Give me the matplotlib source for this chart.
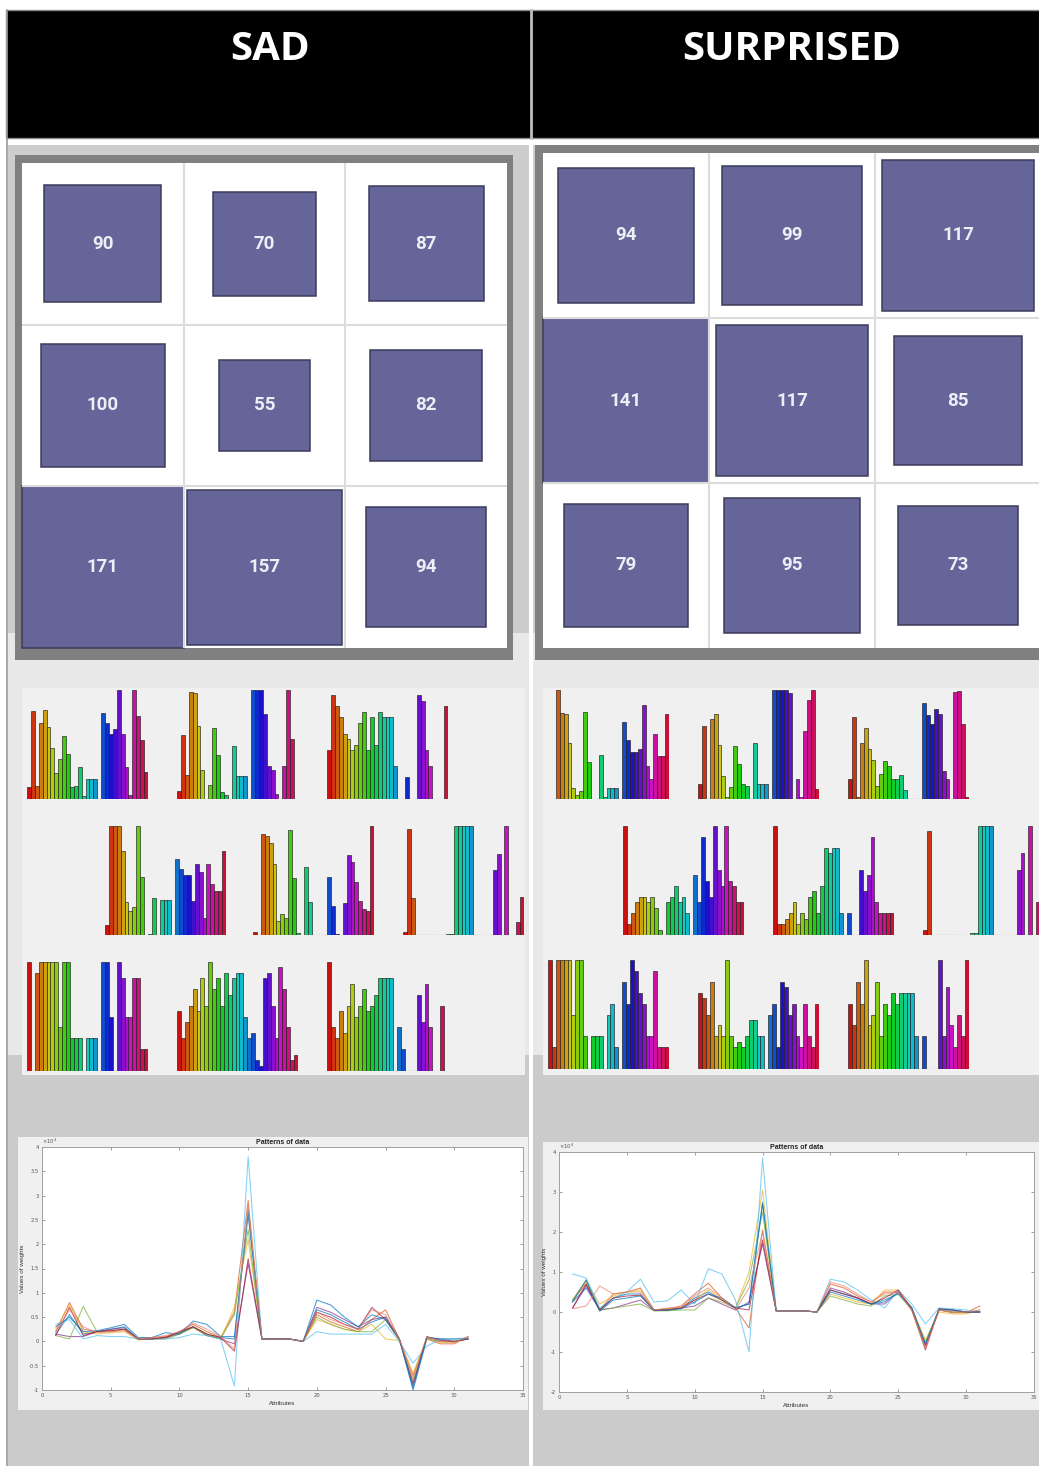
"""
SOM summary sheet for two emotion classes (SAD / SURPRISED):
hit counts on a 3x3 map, per-neuron weight bars and the weight patterns.
"""

import numpy as np
import matplotlib
matplotlib.use("Agg")
import matplotlib.pyplot as plt
from matplotlib.patches import Rectangle
from matplotlib.colors import hsv_to_rgb
from matplotlib.ticker import FuncFormatter

# ---------- Data ----------
CLASSES = ["SAD", "SURPRISED"]

# neuron hit counts, rows top to bottom
SAD_HITS = [[90, 70, 87],
            [100, 55, 82],
            [171, 157, 94]]
SURPRISED_HITS = [[94, 99, 117],
                  [141, 117, 85],
                  [79, 95, 73]]

# normalised weight bars per neuron (31 attributes), row-major order
SAD_BARS = [
    [0.11, 0.81, 0.12, 0.70, 0.82, 0.66, 0.47, 0.24, 0.37, 0.58, 0.41, 0.11, 0.12, 0.29, 0.03, 0.18,
     0.18, 0.18, 0, 0.79, 0.70, 0.60, 0.64, 1.0, 0.60, 0.29, 0.04, 1.0, 0.76, 0.54, 0.25],
    [0.07, 0.59, 0.22, 0.98, 0.97, 0.67, 0.27, 0, 0.13, 0.65, 0.40, 0.06, 0.04, 0, 0.49, 0.21,
     0.21, 0.21, 0, 1.0, 1.0, 1.0, 0.78, 0.30, 0.27, 0.05, 0, 0.30, 1.0, 0.55, 0],
    [0.45, 0.95, 0.85, 0.75, 0.60, 0.55, 0.45, 0.50, 0.70, 0.80, 0.45, 0.75, 0.50, 0.80, 0.75, 0.75,
     0.75, 0.30, 0, 0, 0.20, 0, 0, 0.95, 0.90, 0.45, 0.30, 0, 0, 0, 0.85],
    [0.09, 1.0, 1.0, 1.0, 0.77, 0.30, 0.22, 0.26, 1.0, 0.53, 0, 0.01, 0.34, 0, 0.32, 0.32,
     0.32, 0, 0.70, 0.61, 0.55, 0.55, 0.31, 0.65, 0.58, 0.16, 0.65, 0.47, 0.40, 0.40, 0.77],
    [0.03, 0, 0.93, 0.91, 0.84, 0.65, 0.13, 0.19, 0.16, 0.96, 0.52, 0.02, 0, 0.62, 0.30, 0,
     0, 0, 0, 0.53, 0.27, 0.01, 0, 0.29, 0.73, 0.67, 0.49, 0.31, 0.24, 0.22, 1.0],
    [0.03, 0.97, 0.34, 0, 0, 0, 0, 0, 0, 0, 0, 0.01, 0.01, 1.0, 1.0, 1.0,
     1.0, 1.0, 0, 0, 0, 0, 0, 0.60, 0.74, 0, 1.0, 0, 0, 0.12, 0.35],
    [1.0, 0, 0.90, 1.0, 1.0, 1.0, 1.0, 1.0, 0.40, 1.0, 1.0, 0.30, 0.30, 0.30, 0, 0.30,
     0.30, 0.30, 0, 1.0, 1.0, 0.50, 0, 1.0, 0.85, 0.50, 0.50, 0.85, 0.85, 0.20, 0.20],
    [0.55, 0.30, 0.45, 0.60, 0.75, 0.55, 0.85, 0.60, 1.0, 0.75, 0.85, 0.60, 0.90, 0.70, 0.85, 0.90,
     0.90, 0.50, 0.30, 0.35, 0.10, 0.05, 0.85, 0.90, 0.60, 0.30, 0.95, 0.75, 0.40, 0.10, 0.15],
    [1.0, 0.40, 0.30, 0.55, 0.35, 0.60, 0.80, 0.50, 0.60, 0.75, 0.55, 0.60, 0.70, 0.85, 0.85, 0.85,
     0.85, 0, 0.40, 0.20, 0, 0, 0, 0.70, 0.45, 0.80, 0.40, 0, 0, 0.60, 0],
]
SURPRISED_BARS = [
    [0, 0, 1.0, 0.79, 0.78, 0.51, 0.10, 0.04, 0.07, 0.80, 0.34, 0, 0, 0.40, 0.02, 0.10,
     0.10, 0.10, 0, 0.71, 0.54, 0.43, 0.43, 0.46, 0.86, 0.30, 0.18, 0.60, 0.39, 0.39, 0.78],
    [0.14, 0.67, 0, 0.73, 0.78, 0.50, 0.21, 0.02, 0.11, 0.49, 0.32, 0.14, 0.12, 0, 0.51, 0.14,
     0.14, 0.14, 0, 1.0, 1.0, 1.0, 1.0, 0.97, 0, 0.18, 0.02, 0.62, 0.91, 1.0, 0.09],
    [0.18, 0.75, 0.02, 0.51, 0.65, 0.46, 0.36, 0.12, 0.23, 0.35, 0.30, 0.18, 0.18, 0.22, 0.08, 0,
     0, 0, 0, 0.88, 0.77, 0.69, 0.83, 0.78, 0.26, 0.18, 0, 0.98, 0.99, 0.69, 0.02],
    [1.0, 0.10, 0.20, 0.30, 0.35, 0.35, 0.30, 0.35, 0.25, 0.05, 0, 0.30, 0.35, 0.45, 0.30, 0.35,
     0.20, 0, 0.55, 0.30, 0.90, 0.50, 0.35, 1.0, 0.60, 0.45, 1.0, 0.50, 0.45, 0.30, 0.30],
    [1.0, 0.10, 0.10, 0.15, 0.20, 0.30, 0.10, 0.20, 0.15, 0.35, 0.40, 0.20, 0.45, 0.80, 0.75, 0.80,
     0.80, 0.20, 0, 0.20, 0, 0, 0.60, 0.40, 0.55, 0.90, 0.30, 0.20, 0.20, 0.20, 0.20],
    [0.05, 0.95, 0, 0, 0, 0, 0, 0, 0, 0, 0, 0, 0.02, 0.02, 1.0, 1.0,
     1.0, 1.0, 0, 0, 0, 0, 0, 0, 0.60, 0.75, 0, 1.0, 0, 0.30, 0.45],
    [1.0, 0.20, 1.0, 1.0, 1.0, 1.0, 0.50, 1.0, 1.0, 0.30, 0, 0.30, 0.30, 0.30, 0, 0.50,
     0.60, 0.20, 0, 0.80, 0.60, 1.0, 0.90, 0.70, 0.60, 0.30, 0.30, 0.90, 0.20, 0.20, 0.20],
    [0.70, 0.65, 0.50, 0.80, 0.30, 0.40, 0.30, 1.0, 0.30, 0.20, 0.25, 0.20, 0.30, 0.45, 0.45, 0.30,
     0.30, 0, 0.50, 0.60, 0.20, 0.80, 0.75, 0.50, 0.60, 0.30, 0.20, 0.60, 0.30, 0.20, 0.60],
    [0.60, 0.40, 0.80, 0.60, 1.0, 0.40, 0.50, 0.80, 0.30, 0.60, 0.50, 0.70, 0.60, 0.70, 0.70, 0.70,
     0.70, 0.30, 0, 0.30, 0, 0, 0, 1.0, 0.30, 0.75, 0.40, 0.20, 0.50, 0.30, 1.0],
]

# weight patterns (x 10^4) over attributes 1..31, one list per neuron
SAD_PATTERNS = [
    [0.15, 0.55, 0.15, 0.20, 0.25, 0.30, 0.05, 0.05, 0.08, 0.15, 0.30, 0.15, 0.08, 0.05, 2.70, 0.05,
     0.05, 0.05, 0.0, 0.65, 0.55, 0.40, 0.25, 0.40, 0.50, 0.05, -1.00, 0.05, 0.00, 0.00, 0.05],
    [0.20, 0.80, 0.25, 0.20, 0.22, 0.25, 0.05, 0.08, 0.10, 0.20, 0.35, 0.20, 0.08, 0.60, 2.90, 0.05,
     0.05, 0.05, 0.0, 0.55, 0.40, 0.30, 0.20, 0.45, 0.65, 0.05, -0.70, 0.05, -0.05, -0.05, 0.10],
    [0.25, 0.75, 0.20, 0.15, 0.18, 0.20, 0.03, 0.05, 0.08, 0.18, 0.30, 0.15, 0.05, 0.70, 2.10, 0.05,
     0.05, 0.05, 0.0, 0.45, 0.35, 0.25, 0.20, 0.35, 0.05, 0.02, -0.65, 0.05, -0.02, -0.02, 0.08],
    [0.15, 0.10, 0.10, 0.20, 0.25, 0.28, 0.05, 0.05, 0.08, 0.20, 0.30, 0.12, 0.05, -0.05, 1.60, 0.05,
     0.05, 0.05, 0.0, 0.70, 0.60, 0.45, 0.30, 0.45, 0.50, 0.05, -0.85, 0.08, 0.05, 0.00, 0.05],
    [0.12, 0.05, 0.72, 0.20, 0.20, 0.25, 0.05, 0.05, 0.05, 0.15, 0.28, 0.12, 0.05, 0.55, 2.30, 0.05,
     0.05, 0.05, 0.0, 0.50, 0.35, 0.25, 0.20, 0.20, 0.45, 0.02, -0.80, 0.08, 0.00, 0.00, 0.05],
    [0.35, 0.45, 0.05, 0.12, 0.10, 0.10, 0.05, 0.05, 0.05, 0.08, 0.15, 0.12, 0.05, -0.92, 3.80, 0.05,
     0.05, 0.05, 0.0, 0.20, 0.15, 0.15, 0.15, 0.15, 0.35, 0.00, -0.45, -0.10, 0.05, 0.05, 0.08],
    [0.12, 0.70, 0.12, 0.20, 0.22, 0.25, 0.05, 0.05, 0.08, 0.18, 0.30, 0.15, 0.08, -0.20, 1.70, 0.05,
     0.05, 0.05, 0.0, 0.60, 0.50, 0.35, 0.25, 0.70, 0.45, 0.05, -0.90, 0.10, 0.02, 0.00, 0.05],
    [0.30, 0.50, 0.20, 0.22, 0.28, 0.35, 0.08, 0.08, 0.18, 0.15, 0.42, 0.35, 0.10, 0.10, 2.60, 0.05,
     0.05, 0.05, 0.0, 0.85, 0.75, 0.50, 0.30, 0.55, 0.45, 0.05, -0.95, 0.08, 0.05, 0.05, 0.05],
    [0.20, 0.65, 0.30, 0.18, 0.20, 0.22, 0.05, 0.08, 0.12, 0.20, 0.38, 0.25, 0.10, -0.15, 2.80, 0.05,
     0.05, 0.05, 0.0, 0.60, 0.45, 0.35, 0.25, 0.65, 0.55, 0.05, -0.75, 0.10, 0.00, -0.02, 0.10],
]
SURPRISED_PATTERNS = [
    [0.25, 0.60, 0.05, 0.35, 0.45, 0.45, 0.05, 0.05, 0.10, 0.35, 0.50, 0.30, 0.10, 0.20, 2.75, 0.03,
     0.03, 0.03, 0.0, 0.55, 0.45, 0.35, 0.20, 0.25, 0.50, 0.10, -0.80, 0.05, 0.00, 0.00, 0.00],
    [0.30, 0.70, 0.05, 0.45, 0.50, 0.60, 0.05, 0.08, 0.15, 0.45, 0.72, 0.35, 0.10, -0.40, 2.05, 0.03,
     0.03, 0.03, 0.0, 0.70, 0.60, 0.40, 0.25, 0.50, 0.50, 0.05, -0.85, 0.05, -0.02, -0.02, 0.15],
    [0.30, 0.75, 0.20, 0.40, 0.50, 0.55, 0.05, 0.08, 0.10, 0.30, 0.55, 0.30, 0.10, 1.00, 3.05, 0.03,
     0.03, 0.03, 0.0, 0.45, 0.35, 0.25, 0.20, 0.55, 0.55, 0.10, -0.70, 0.00, -0.05, -0.05, 0.05],
    [0.10, 0.65, 0.05, 0.10, 0.20, 0.30, 0.03, 0.05, 0.10, 0.15, 0.35, 0.20, 0.05, 0.25, 1.70, 0.03,
     0.03, 0.03, 0.0, 0.60, 0.50, 0.35, 0.20, 0.20, 0.50, 0.10, -0.85, 0.05, 0.05, 0.00, 0.00],
    [0.30, 0.80, 0.05, 0.10, 0.15, 0.20, 0.03, 0.03, 0.05, 0.05, 0.35, 0.25, 0.10, 0.80, 2.50, 0.03,
     0.03, 0.03, 0.0, 0.40, 0.30, 0.20, 0.15, 0.40, 0.45, 0.05, -0.75, 0.05, 0.00, 0.00, 0.00],
    [0.95, 0.85, 0.10, 0.35, 0.50, 0.82, 0.25, 0.28, 0.55, 0.20, 1.08, 0.95, 0.30, -1.00, 3.85, 0.03,
     0.03, 0.03, 0.0, 0.82, 0.75, 0.55, 0.30, 0.10, 0.55, 0.20, -0.30, 0.10, 0.08, 0.05, 0.00],
    [0.10, 0.70, 0.05, 0.35, 0.40, 0.42, 0.05, 0.05, 0.10, 0.30, 0.45, 0.30, 0.10, 0.05, 1.80, 0.03,
     0.03, 0.03, 0.0, 0.55, 0.45, 0.35, 0.20, 0.35, 0.55, 0.05, -0.95, 0.08, 0.05, 0.00, 0.00],
    [0.25, 0.80, 0.02, 0.30, 0.35, 0.40, 0.05, 0.05, 0.08, 0.25, 0.45, 0.35, 0.10, 0.20, 2.70, 0.03,
     0.03, 0.03, 0.0, 0.50, 0.40, 0.30, 0.20, 0.30, 0.45, 0.10, -0.80, 0.08, 0.05, 0.00, 0.00],
    [0.08, 0.15, 0.65, 0.45, 0.50, 0.50, 0.05, 0.10, 0.12, 0.40, 0.60, 0.35, 0.05, 0.60, 2.00, 0.03,
     0.03, 0.03, 0.0, 0.75, 0.65, 0.45, 0.25, 0.45, 0.50, 0.05, -0.90, 0.05, 0.00, 0.00, 0.05],
]

# ---------- Layout (pixels) ----------
W, H = 1039, 1466
DPI = 100
N_ATTR = 31

LINE_COLORS = ["#0072BD", "#D95319", "#EDB120", "#7E2F8E", "#77AC30",
               "#4DBEEE", "#A2142F", "#0072BD", "#E8806A"]
HIT_FACE = "#65659a"
HIT_EDGE = "#3c3c5c"

fig = plt.figure(figsize=(W / DPI, H / DPI), dpi=DPI)
fig.patch.set_facecolor("white")


def px_axes(x0, y0, x1, y1):
    """Axes placed by pixel box (top-left origin)."""
    return fig.add_axes([x0 / W, 1 - y1 / H, (x1 - x0) / W, (y1 - y0) / H])


bg = px_axes(0, 0, W, H)
bg.set_xlim(0, W)
bg.set_ylim(H, 0)
bg.axis("off")


def box(x0, y0, x1, y1, color, **kw):
    bg.add_patch(Rectangle((x0, y0), x1 - x0, y1 - y0, facecolor=color,
                           edgecolor=kw.pop("edgecolor", "none"), **kw))


# ---------- Background panels ----------
for cx0, cx1 in [(8, 529), (533, W)]:
    box(cx0, 145, cx1, 633, "#cdcdcd")
    box(cx0, 633, cx1, 1055, "#e8e8e8")
    box(cx0, 1055, cx1, H, "#cbcbcb")
bg.plot([7, 7], [10, H], color="#9a9a9a", lw=1.2)

# header
box(6, 10, W + 2, 138, "black", edgecolor="#8a8a8a", lw=1)
bg.plot([530.5, 530.5], [10, 138], color="#bdbdbd", lw=2)
for name, cx in zip(CLASSES, [270, 792]):
    bg.text(cx, 50, name, color="white", fontsize=29, fontweight="bold",
            family=["Open Sans", "DejaVu Sans"], ha="center", va="center")

# histogram and pattern panels
box(22, 688, 525, 1075, "#f0f0f0")
box(543, 688, W + 2, 1075, "#f0f0f0")
box(18, 1137, 528, 1410, "#f0f0f0")
box(543, 1142, W + 2, 1410, "#f0f0f0")


# ---------- SOM hit grids ----------
def draw_hits(ax, hits):
    hits = np.asarray(hits, dtype=float)
    peak = hits.max()
    ax.set_xlim(0, 3)
    ax.set_ylim(3, 0)
    ax.set_facecolor("white")
    for k in (1, 2):
        ax.axvline(k, color="#dcdcdc", lw=1.5)
        ax.axhline(k, color="#dcdcdc", lw=1.5)
    for r in range(3):
        for c in range(3):
            s = np.sqrt(hits[r, c] / peak)
            ax.add_patch(Rectangle((c + 0.5 - s / 2, r + 0.5 - s / 2), s, s,
                                   facecolor=HIT_FACE, edgecolor=HIT_EDGE,
                                   lw=1.1, clip_on=False))
            ax.text(c + 0.5, r + 0.5, f"{int(hits[r, c])}", ha="center", va="center",
                    color="#eeeef6", fontsize=13.5, fontweight="bold",
                    family=["Roboto", "DejaVu Sans"])
    ax.set_xticks([])
    ax.set_yticks([])
    for sp in ax.spines.values():
        sp.set_visible(False)


box(15, 155, 513, 660, "#808080")
draw_hits(px_axes(22, 163, 507, 648), SAD_HITS)
box(535, 145, W + 10, 660, "#808080")
draw_hits(px_axes(543, 153, 1041, 648), SURPRISED_HITS)


# ---------- Per-neuron weight bars ----------
hues = np.arange(N_ATTR) / N_ATTR
BAR_COLORS = hsv_to_rgb(np.column_stack([hues, np.full(N_ATTR, 0.92), np.full(N_ATTR, 0.80)]))


def draw_bars(ax, vals):
    ax.bar(np.arange(N_ATTR), vals, width=1.0, color=BAR_COLORS,
           edgecolor="#1e1e1e", linewidth=0.45)
    ax.axhline(0, color="#8c8c8c", lw=0.9, ls=(0, (1, 1)), zorder=0)
    ax.set_xlim(-0.5, N_ATTR - 0.5)
    ax.set_ylim(0, 1.0)
    ax.axis("off")


BAR_W, BAR_H = 121, 109
sad_x = [[27, 177, 327], [105, 253, 403], [27, 177, 327]]
sad_top = [690, 826, 962]
sur_x = [[548, 698, 848], [623, 773, 923], [548, 698, 848]]
sur_top = [690, 826, 960]

for r in range(3):
    for c in range(3):
        x0, y0 = sad_x[r][c], sad_top[r]
        draw_bars(px_axes(x0, y0, x0 + BAR_W, y0 + BAR_H), SAD_BARS[3 * r + c])
        x0, y0 = sur_x[r][c], sur_top[r]
        draw_bars(px_axes(x0, y0, x0 + BAR_W, y0 + BAR_H), SURPRISED_BARS[3 * r + c])


# ---------- Weight patterns ----------
def draw_patterns(ax, series, ylo, yhi, ystep):
    x = np.arange(1, N_ATTR + 1)
    for vals, col in zip(series, LINE_COLORS):
        ax.plot(x, vals, color=col, lw=0.75, alpha=0.7)
    ax.set_xlim(0, 35)
    ax.set_ylim(ylo, yhi)
    ax.set_xticks(range(0, 36, 5))
    ax.set_yticks(np.arange(ylo, yhi + 1e-9, ystep))
    fmt = FuncFormatter(lambda v, p: f"{v:g}")
    ax.xaxis.set_major_formatter(fmt)
    ax.yaxis.set_major_formatter(fmt)
    ax.tick_params(direction="in", length=2.5, width=0.4, labelsize=3.8,
                   colors="#555555", top=True, right=True, pad=2)
    for sp in ax.spines.values():
        sp.set_color("#a0a0a0")
        sp.set_linewidth(0.7)
    ax.set_title("Patterns of data", fontsize=5, fontweight="bold", pad=2,
                 family=["Liberation Sans", "DejaVu Sans"], color="#222222")
    ax.set_xlabel("Attributes", fontsize=4.5, labelpad=2, color="#333333",
                  family=["Liberation Sans", "DejaVu Sans"])
    ax.set_ylabel("Values of weights", fontsize=4.5, labelpad=3, color="#333333",
                  family=["Liberation Sans", "DejaVu Sans"])
    ax.text(0.0, 1.004, r"$\times10^4$", transform=ax.transAxes, fontsize=3.8,
            color="#555555", va="bottom", ha="left")


draw_patterns(px_axes(42, 1147, 523, 1390), SAD_PATTERNS, -1, 4, 0.5)
draw_patterns(px_axes(559, 1152, 1034, 1392), SURPRISED_PATTERNS, -2, 4, 1)

fig.savefig("out.png", dpi=DPI, facecolor=fig.get_facecolor())
